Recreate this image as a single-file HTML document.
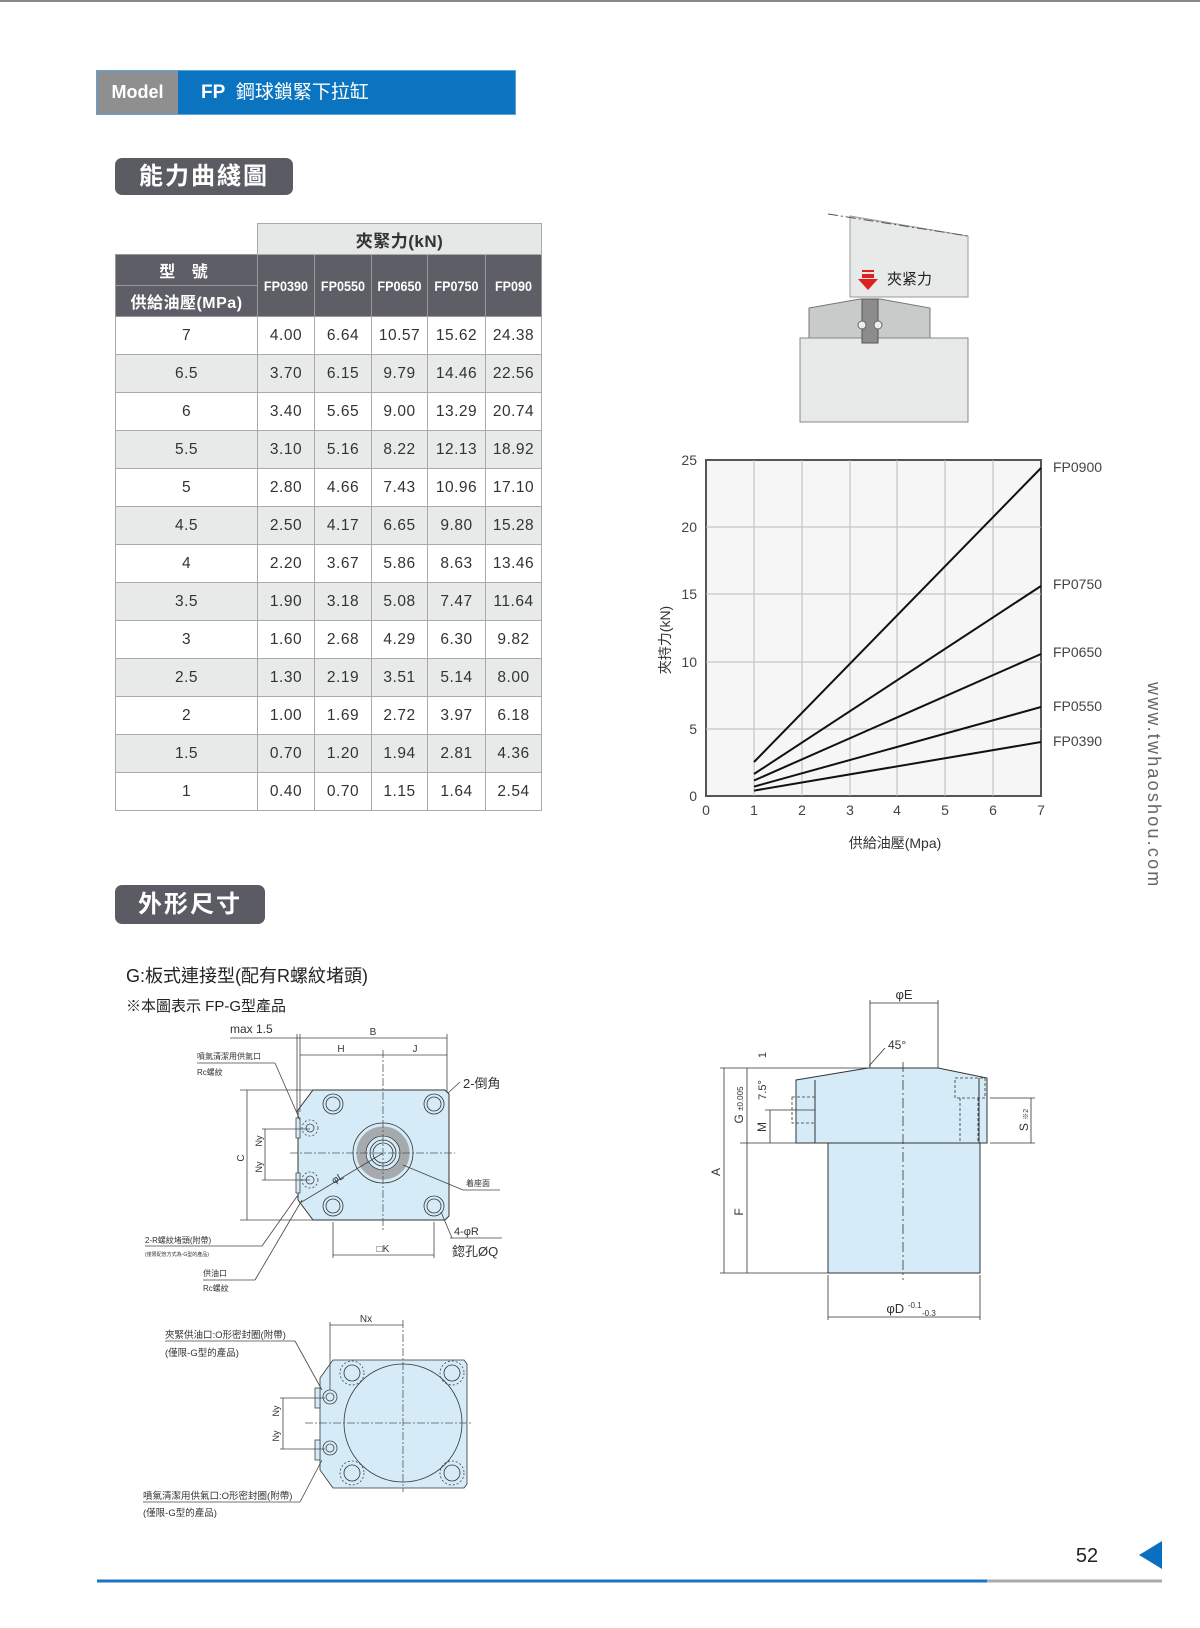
<!DOCTYPE html>
<html><head><meta charset="utf-8">
<style>
*{margin:0;padding:0;box-sizing:border-box}
body{width:1200px;height:1628px;background:#fff;position:relative;overflow:hidden;font-family:"Liberation Sans","Noto Sans CJK TC",sans-serif;color:#333}
.abs{position:absolute}
table{border-collapse:collapse;position:absolute;left:115px;top:223px;table-layout:fixed}
td{border:1.5px solid #aaa;text-align:center;font-size:15.5px;color:#333;height:38px;padding:0;letter-spacing:0.5px}
tr.g td{background:#e8e9e9}
.h td{background:#5d5e66;color:#fff;font-weight:bold;border-color:#999}
.hc{font-family:"Liberation Sans Narrow","Liberation Sans",sans-serif;font-size:14px;letter-spacing:0;transform:scaleX(0.9)}
.sec{position:absolute;background:#5a5b63;color:#fff;font-weight:bold;font-size:24px;border-radius:7px;text-align:center;letter-spacing:2px}
</style></head><body>
<div class="abs" style="left:0;top:0;width:1200px;height:2px;background:#888"></div>
<div class="abs" style="left:96px;top:70px;width:420px;height:45px;background:#0a74c0;border:1px solid #5aa6dc"></div>
<div class="abs" style="left:97px;top:71px;width:81px;height:43px;background:#8f8f8f;color:#fff;font-weight:bold;font-size:18px;line-height:43px;text-align:center">Model</div>
<div class="abs" style="left:201px;top:71px;height:43px;line-height:43px;color:#fff;font-size:19px"><b>FP</b>&nbsp; 鋼球鎖緊下拉缸</div>
<div class="sec" style="left:115px;top:158px;width:178px;height:37px;line-height:37px">能力曲綫圖</div>
<div class="sec" style="left:115px;top:885px;width:150px;height:39px;line-height:39px">外形尺寸</div>

<table>
<colgroup><col style="width:142px"><col style="width:57px"><col style="width:57px"><col style="width:56px"><col style="width:58px"><col style="width:56px"></colgroup>
<tr><td style="border:none;height:31px"></td><td colspan="5" style="background:#e6e7e7;font-weight:bold;font-size:17px;height:31px">夾緊力(kN)</td></tr>
<tr class="h"><td style="height:31px;font-size:16px;letter-spacing:6px">型 號</td><td rowspan="2"><div class="hc">FP0390</div></td><td rowspan="2"><div class="hc">FP0550</div></td><td rowspan="2"><div class="hc">FP0650</div></td><td rowspan="2"><div class="hc">FP0750</div></td><td rowspan="2"><div class="hc">FP090</div></td></tr>
<tr class="h"><td style="height:31px;font-size:16px">供給油壓(MPa)</td></tr>
<tr><td>7</td><td>4.00</td><td>6.64</td><td>10.57</td><td>15.62</td><td>24.38</td></tr>
<tr class="g"><td>6.5</td><td>3.70</td><td>6.15</td><td>9.79</td><td>14.46</td><td>22.56</td></tr>
<tr><td>6</td><td>3.40</td><td>5.65</td><td>9.00</td><td>13.29</td><td>20.74</td></tr>
<tr class="g"><td>5.5</td><td>3.10</td><td>5.16</td><td>8.22</td><td>12.13</td><td>18.92</td></tr>
<tr><td>5</td><td>2.80</td><td>4.66</td><td>7.43</td><td>10.96</td><td>17.10</td></tr>
<tr class="g"><td>4.5</td><td>2.50</td><td>4.17</td><td>6.65</td><td>9.80</td><td>15.28</td></tr>
<tr><td>4</td><td>2.20</td><td>3.67</td><td>5.86</td><td>8.63</td><td>13.46</td></tr>
<tr class="g"><td>3.5</td><td>1.90</td><td>3.18</td><td>5.08</td><td>7.47</td><td>11.64</td></tr>
<tr><td>3</td><td>1.60</td><td>2.68</td><td>4.29</td><td>6.30</td><td>9.82</td></tr>
<tr class="g"><td>2.5</td><td>1.30</td><td>2.19</td><td>3.51</td><td>5.14</td><td>8.00</td></tr>
<tr><td>2</td><td>1.00</td><td>1.69</td><td>2.72</td><td>3.97</td><td>6.18</td></tr>
<tr class="g"><td>1.5</td><td>0.70</td><td>1.20</td><td>1.94</td><td>2.81</td><td>4.36</td></tr>
<tr><td>1</td><td>0.40</td><td>0.70</td><td>1.15</td><td>1.64</td><td>2.54</td></tr>
</table>

<div class="abs" style="left:126px;top:962px;font-size:18px;color:#222">G:板式連接型(配有R螺紋堵頭)</div>
<div class="abs" style="left:126px;top:995px;font-size:15px;color:#222">※本圖表示 FP-G型產品</div>

<div class="abs" style="left:1140px;top:682px;width:24px;height:212px">
<div style="transform:rotate(90deg);transform-origin:0 0;position:absolute;left:24px;top:0;white-space:nowrap;font-size:18px;color:#666;letter-spacing:2.2px">www.twhaoshou.com</div></div>

<svg class="abs" style="left:0;top:0" width="1200" height="1628" viewBox="0 0 1200 1628" font-family="Liberation Sans, Noto Sans CJK TC, sans-serif">
<!-- top illustration -->
<polygon points="850,216 968,236 968,297 850,297" fill="#e8e9e9" stroke="#999"/>
<line x1="828" y1="214" x2="968" y2="236" stroke="#555" stroke-dasharray="10,3,2,3"/>
<polygon points="809,308 860,299 880,299 930,308 930,338 809,338" fill="#c9caca" stroke="#777"/>
<rect x="800" y="338" width="168" height="84" fill="#e8e9e9" stroke="#888"/>
<rect x="862" y="299" width="16" height="44" fill="#8c8c8c" stroke="#555"/>
<circle cx="862" cy="325" r="4" fill="#eee" stroke="#666"/><circle cx="878" cy="325" r="4" fill="#eee" stroke="#666"/>
<rect x="862" y="270" width="12" height="2" fill="#e02020"/><rect x="862" y="274" width="12" height="4" fill="#e02020"/>
<polygon points="858,279 878,279 868,290" fill="#e02020"/>
<text x="887" y="284" font-size="15" fill="#222">夾紧力</text>

<!-- chart -->
<rect x="706" y="460" width="335" height="336" fill="#f6f6f6" stroke="#555" stroke-width="2"/>
<g stroke="#bbb" stroke-width="1">
<line x1="754" y1="460" x2="754" y2="796"/><line x1="802" y1="460" x2="802" y2="796"/><line x1="850" y1="460" x2="850" y2="796"/><line x1="897" y1="460" x2="897" y2="796"/><line x1="945" y1="460" x2="945" y2="796"/><line x1="993" y1="460" x2="993" y2="796"/>
<line x1="706" y1="527" x2="1041" y2="527"/><line x1="706" y1="594" x2="1041" y2="594"/><line x1="706" y1="662" x2="1041" y2="662"/><line x1="706" y1="729" x2="1041" y2="729"/>
</g>
<g stroke="#111" stroke-width="2">
<line x1="754" y1="762" x2="1041" y2="468"/><line x1="754" y1="774" x2="1041" y2="586"/><line x1="754" y1="780.5" x2="1041" y2="654"/><line x1="754" y1="786.6" x2="1041" y2="707"/><line x1="754" y1="790.6" x2="1041" y2="742"/>
</g>
<g font-size="14" fill="#444" text-anchor="end">
<text x="697" y="465">25</text><text x="697" y="532">20</text><text x="697" y="599">15</text><text x="697" y="667">10</text><text x="697" y="734">5</text><text x="697" y="801">0</text></g>
<g font-size="14" fill="#444" text-anchor="middle">
<text x="706" y="815">0</text><text x="754" y="815">1</text><text x="802" y="815">2</text><text x="850" y="815">3</text><text x="897" y="815">4</text><text x="945" y="815">5</text><text x="993" y="815">6</text><text x="1041" y="815">7</text>
<text x="895" y="848" fill="#333">供給油壓(Mpa)</text></g>
<text transform="translate(670,640) rotate(-90)" font-size="14" fill="#333" text-anchor="middle">夾持力(kN)</text>
<g font-size="14" fill="#444"><text x="1053" y="472">FP0900</text><text x="1053" y="589">FP0750</text><text x="1053" y="657">FP0650</text><text x="1053" y="711">FP0550</text><text x="1053" y="746">FP0390</text></g>

<!-- drawing 1 -->
<g stroke="#444" stroke-width="0.8" fill="none">
<polygon points="313,1090 445,1090 449,1094 449,1216 445,1220 313,1220 298,1200 298,1110" fill="#d5ecf8" stroke="#333" stroke-width="1"/>
<rect x="296" y="1118" width="4" height="20" fill="#d5ecf8"/><rect x="296" y="1173" width="4" height="20" fill="#d5ecf8"/>
<circle cx="310" cy="1128" r="8" stroke-dasharray="2,2"/><circle cx="310" cy="1128" r="4"/>
<circle cx="310" cy="1180" r="8" stroke-dasharray="2,2"/><circle cx="310" cy="1180" r="4"/>
<g stroke="#333"><circle cx="333" cy="1104" r="10"/><circle cx="333" cy="1104" r="7"/><circle cx="434" cy="1104" r="10"/><circle cx="434" cy="1104" r="7"/><circle cx="333" cy="1206" r="10"/><circle cx="333" cy="1206" r="7"/><circle cx="434" cy="1206" r="10"/><circle cx="434" cy="1206" r="7"/></g>
<circle cx="383" cy="1153" r="30" stroke="#333"/>
<circle cx="383" cy="1153" r="22" fill="none" stroke="#a6aaad" stroke-width="9"/>
<circle cx="383" cy="1153" r="17" stroke="#333"/><circle cx="383" cy="1153" r="13" stroke="#333"/><circle cx="383" cy="1153" r="10" stroke="#333"/>
<g stroke-dasharray="8,2,2,2" stroke="#555"><line x1="383" y1="1050" x2="383" y2="1232"/><line x1="290" y1="1153" x2="455" y2="1153"/></g>
<line x1="297" y1="1034" x2="297" y2="1112"/><line x1="300" y1="1034" x2="300" y2="1112"/><line x1="447" y1="1034" x2="447" y2="1092"/>
<line x1="230" y1="1038" x2="447" y2="1038"/><line x1="300" y1="1055" x2="447" y2="1055"/>
<line x1="240" y1="1090" x2="313" y2="1090"/><line x1="240" y1="1220" x2="313" y2="1220"/><line x1="247" y1="1090" x2="247" y2="1220"/>
<line x1="262" y1="1129" x2="310" y2="1129"/><line x1="262" y1="1180" x2="310" y2="1180"/><line x1="265" y1="1129" x2="265" y2="1180"/>
<line x1="197" y1="1063" x2="275" y2="1063"/><line x1="275" y1="1063" x2="300" y2="1120"/>
<line x1="460" y1="1082" x2="448" y2="1093"/>
<line x1="403" y1="1165" x2="463" y2="1190"/><line x1="463" y1="1190" x2="500" y2="1190"/>
<line x1="441" y1="1212" x2="452" y2="1238"/><line x1="450" y1="1238" x2="502" y2="1238"/>
<line x1="333" y1="1222" x2="333" y2="1258"/><line x1="434" y1="1222" x2="434" y2="1258"/><line x1="333" y1="1255" x2="434" y2="1255"/>
<line x1="383" y1="1153" x2="300" y2="1203"/>
<line x1="145" y1="1246" x2="262" y2="1246"/><line x1="262" y1="1246" x2="298" y2="1195"/>
<line x1="203" y1="1280" x2="255" y2="1280"/><line x1="255" y1="1280" x2="302" y2="1200"/>
</g>
<g fill="#333">
<text x="230" y="1033" font-size="12">max 1.5</text>
<text x="373" y="1035" font-size="10" text-anchor="middle">B</text><text x="341" y="1052" font-size="10" text-anchor="middle">H</text><text x="415" y="1052" font-size="10" text-anchor="middle">J</text>
<text x="197" y="1059" font-size="8">噴氣清潔用供氣口</text><text x="197" y="1075" font-size="8">Rc螺紋</text>
<text x="463" y="1088" font-size="13">2-倒角</text>
<text x="466" y="1186" font-size="8">着座面</text>
<text x="454" y="1235" font-size="11">4-φR</text><text x="452" y="1256" font-size="13">鍃孔ØQ</text>
<text x="383" y="1252" font-size="10" text-anchor="middle">□K</text>
<text transform="translate(244,1158) rotate(-90)" font-size="10" text-anchor="middle">C</text>
<text transform="translate(262,1141) rotate(-90)" font-size="9" text-anchor="middle">Ny</text>
<text transform="translate(262,1167) rotate(-90)" font-size="9" text-anchor="middle">Ny</text>
<text transform="translate(334,1184) rotate(-30)" font-size="10">φL</text>
<text x="145" y="1243" font-size="8">2-R螺紋堵頭(附帶)</text><text x="145" y="1256" font-size="5">(僅限配管方式為-G型的產品)</text>
<text x="203" y="1276" font-size="8">供油口</text><text x="203" y="1291" font-size="8">Rc螺紋</text>
</g>

<!-- drawing 2 -->
<g stroke="#444" stroke-width="0.8" fill="none">
<polygon points="333,1360 464,1360 467,1364 467,1484 464,1488 333,1488 320,1470 320,1378" fill="#d5ecf8" stroke="#333"/>
<rect x="315" y="1388" width="5" height="20" fill="#d5ecf8"/><rect x="315" y="1440" width="5" height="20" fill="#d5ecf8"/>
<circle cx="330" cy="1397" r="7"/><circle cx="330" cy="1397" r="4"/><circle cx="330" cy="1448" r="7"/><circle cx="330" cy="1448" r="4"/>
<circle cx="403" cy="1423" r="59" stroke="#333"/>
<g stroke="#333"><circle cx="352" cy="1373" r="8"/><circle cx="452" cy="1373" r="8"/><circle cx="352" cy="1473" r="8"/><circle cx="452" cy="1473" r="8"/></g>
<g stroke-dasharray="2,2"><circle cx="352" cy="1373" r="12"/><circle cx="452" cy="1373" r="12"/><circle cx="352" cy="1473" r="12"/><circle cx="452" cy="1473" r="12"/></g>
<g stroke-dasharray="8,2,2,2" stroke="#555"><line x1="403" y1="1320" x2="403" y2="1492"/><line x1="305" y1="1423" x2="472" y2="1423"/></g>
<line x1="330" y1="1322" x2="330" y2="1390"/><line x1="330" y1="1325" x2="403" y2="1325"/>
<line x1="280" y1="1398" x2="325" y2="1398"/><line x1="280" y1="1449" x2="325" y2="1449"/><line x1="283" y1="1398" x2="283" y2="1449"/>
<line x1="165" y1="1341" x2="295" y2="1341"/><line x1="295" y1="1341" x2="322" y2="1390"/>
<line x1="143" y1="1502" x2="300" y2="1502"/><line x1="300" y1="1502" x2="322" y2="1460"/>
</g>
<g fill="#333">
<text x="366" y="1322" font-size="10" text-anchor="middle">Nx</text>
<text transform="translate(279,1411) rotate(-90)" font-size="9" text-anchor="middle">Ny</text>
<text transform="translate(279,1436) rotate(-90)" font-size="9" text-anchor="middle">Ny</text>
<text x="165" y="1338" font-size="9.5">夾緊供油口:O形密封圈(附帶)</text><text x="165" y="1356" font-size="9.5">(僅限-G型的產品)</text>
<text x="143" y="1499" font-size="9.5">噴氣清潔用供氣口:O形密封圈(附帶)</text><text x="143" y="1516" font-size="9.5">(僅限-G型的產品)</text>
</g>

<!-- drawing 3 -->
<g stroke="#333" stroke-width="1" fill="none">
<polygon points="796,1080 868,1068 938,1068 987,1078 987,1143 796,1143" fill="#d5ecf8"/>
<rect x="828" y="1143" width="152" height="130" fill="#d5ecf8"/>
<line x1="815" y1="1080" x2="815" y2="1143"/><line x1="979" y1="1078" x2="979" y2="1143"/>
<g stroke-dasharray="3,2" stroke-width="0.8"><rect x="955" y="1078" width="30" height="20"/><line x1="960" y1="1098" x2="960" y2="1143"/><line x1="978" y1="1098" x2="978" y2="1143"/><rect x="792" y="1097" width="23" height="26"/></g>
<line x1="903" y1="1062" x2="903" y2="1280" stroke-dasharray="10,3,2,3" stroke-width="0.8"/>
<g stroke-width="0.8">
<line x1="870" y1="1000" x2="870" y2="1068"/><line x1="938" y1="1000" x2="938" y2="1068"/><line x1="870" y1="1003" x2="938" y2="1003"/>
<line x1="720" y1="1068" x2="868" y2="1068"/><line x1="740" y1="1143" x2="796" y2="1143"/><line x1="720" y1="1273" x2="828" y2="1273"/><line x1="765" y1="1110" x2="815" y2="1110"/>
<line x1="724" y1="1068" x2="724" y2="1273"/><line x1="747" y1="1068" x2="747" y2="1143"/><line x1="747" y1="1143" x2="747" y2="1273"/><line x1="770" y1="1110" x2="770" y2="1143"/>
<line x1="990" y1="1098" x2="1035" y2="1098"/><line x1="990" y1="1143" x2="1035" y2="1143"/><line x1="1031" y1="1098" x2="1031" y2="1143"/>
<line x1="828" y1="1275" x2="828" y2="1320"/><line x1="980" y1="1275" x2="980" y2="1320"/><line x1="828" y1="1317" x2="980" y2="1317"/>
<line x1="869" y1="1066" x2="885" y2="1048"/>
</g></g>
<g fill="#333">
<text x="904" y="999" font-size="13" text-anchor="middle">φE</text>
<text x="888" y="1049" font-size="12">45°</text>
<text x="904" y="1313" font-size="13" text-anchor="middle">φD <tspan font-size="8" dy="-5">-0.1</tspan></text>
<text x="922" y="1316" font-size="8">-0.3</text>
<text transform="translate(720,1172) rotate(-90)" font-size="12" text-anchor="middle">A</text>
<text transform="translate(743,1212) rotate(-90)" font-size="12" text-anchor="middle">F</text>
<text transform="translate(743,1105) rotate(-90)" font-size="12" text-anchor="middle">G <tspan font-size="8">±0.005</tspan></text>
<text transform="translate(766,1127) rotate(-90)" font-size="12" text-anchor="middle">M</text>
<text transform="translate(766,1090) rotate(-90)" font-size="11" text-anchor="middle">7.5°</text>
<text transform="translate(766,1055) rotate(-90)" font-size="11" text-anchor="middle">1</text>
<text transform="translate(1028,1120) rotate(-90)" font-size="12" text-anchor="middle">S <tspan font-size="7">※2</tspan></text>
</g>

<!-- footer -->
<polygon points="1139,1555 1162,1541 1162,1569" fill="#0a6fc0"/>
<line x1="97" y1="1581" x2="987" y2="1581" stroke="#1a74c0" stroke-width="3"/>
<line x1="987" y1="1581" x2="1162" y2="1581" stroke="#aaa" stroke-width="3"/>
<text x="1087" y="1562" font-size="20" fill="#222" text-anchor="middle">52</text>
</svg>
</body></html>
